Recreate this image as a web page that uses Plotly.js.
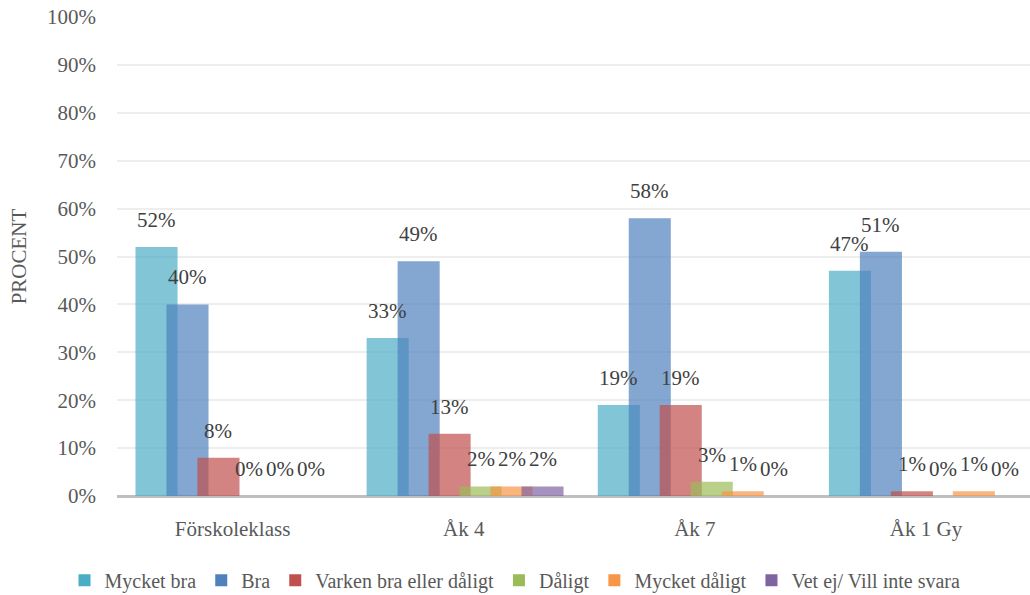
<!DOCTYPE html>
<html>
<head>
<meta charset="utf-8">
<script src="https://cdn.plot.ly/plotly-3.0.1.min.js"></script>
<style>html,body{margin:0;padding:0;background:#fff}#chart{width:1030px;height:595px}</style>
</head>
<body>
<div id="chart"></div>
<script>
const categories = ["Förskoleklass", "Åk 4", "Åk 7", "Åk 1 Gy"];
const seriesNames = ["Mycket bra", "Bra", "Varken bra eller dåligt", "Dåligt", "Mycket dåligt", "Vet ej/ Vill inte svara"];
const mycketBra = [52, 33, 19, 47];
const bra = [40, 49, 58, 51];
const varken = [8, 13, 19, 1];
const daligt = [0, 2, 3, 0];
const mycketDaligt = [0, 2, 1, 1];
const vetEj = [0, 2, 0, 0];
const yTicks = [0, 10, 20, 30, 40, 50, 60, 70, 80, 90, 100];
const yTickLabels = ["0%", "10%", "20%", "30%", "40%", "50%", "60%", "70%", "80%", "90%", "100%"];

const seriesValues = [mycketBra, bra, varken, daligt, mycketDaligt, vetEj];
const colors = ["#4BACC6", "#4F81BD", "#C0504D", "#9BBB59", "#F79646", "#8064A2"];
const font = "Liberation Serif";
const barWidth = 0.182;
const step = 0.134;
const start = -0.42;
const xs = categories.map((c, i) => i);

const traces = seriesValues.map((vals, s) => ({
  type: "bar",
  name: seriesNames[s],
  x: xs,
  y: vals,
  width: barWidth,
  offset: start + s * step,
  marker: {color: colors[s], opacity: 0.7, line: {width: 0}},
  hoverinfo: "skip"
}));

const annotations = [];
seriesValues.forEach((vals, s) => {
  vals.forEach((v, i) => {
    annotations.push({
      x: i + start + s * step + barWidth / 2,
      y: v,
      xref: "x", yref: "y",
      text: v + "%",
      showarrow: false,
      yshift: 27,
      font: {family: font, size: 21, color: "#404040"}
    });
  });
});

const layout = {
  width: 1030, height: 595,
  margin: {l: 117, r: 0, t: 17, b: 99, autoexpand: false},
  paper_bgcolor: "#fff", plot_bgcolor: "#fff",
  barmode: "overlay",
  showlegend: true,
  legend: {
    orientation: "h", x: 0.5, xanchor: "center", xref: "container",
    y: 0.025, yref: "container", yanchor: "middle",
    font: {family: font, size: 20, color: "#595959"},
    itemwidth: 30, tracegroupgap: 0
  },
  xaxis: {
    range: [-0.5, 3.45],
    tickvals: xs, ticktext: categories,
    showgrid: false, zeroline: false,
    showline: false, ticks: "", tickangle: 0,
    tickfont: {family: font, size: 21, color: "#595959"},
    ticklabelstandoff: 18
  },
  yaxis: {
    range: [0, 100], tickvals: yTicks, ticktext: yTickLabels,
    showgrid: true, gridcolor: "#EEEEEE", gridwidth: 2,
    zeroline: true, zerolinecolor: "#BFBFBF", zerolinewidth: 3,
    showline: false, ticks: "",
    automargin: true,
    tickfont: {family: font, size: 21, color: "#595959"},
    ticklabelstandoff: 20,
    title: {text: "PROCENT", font: {family: font, size: 21, color: "#595959"}, standoff: 14}
  },
  annotations: annotations,
  font: {family: font}
};

Plotly.newPlot("chart", traces, layout, {displayModeBar: false, staticPlot: true});
</script>
</body>
</html>
